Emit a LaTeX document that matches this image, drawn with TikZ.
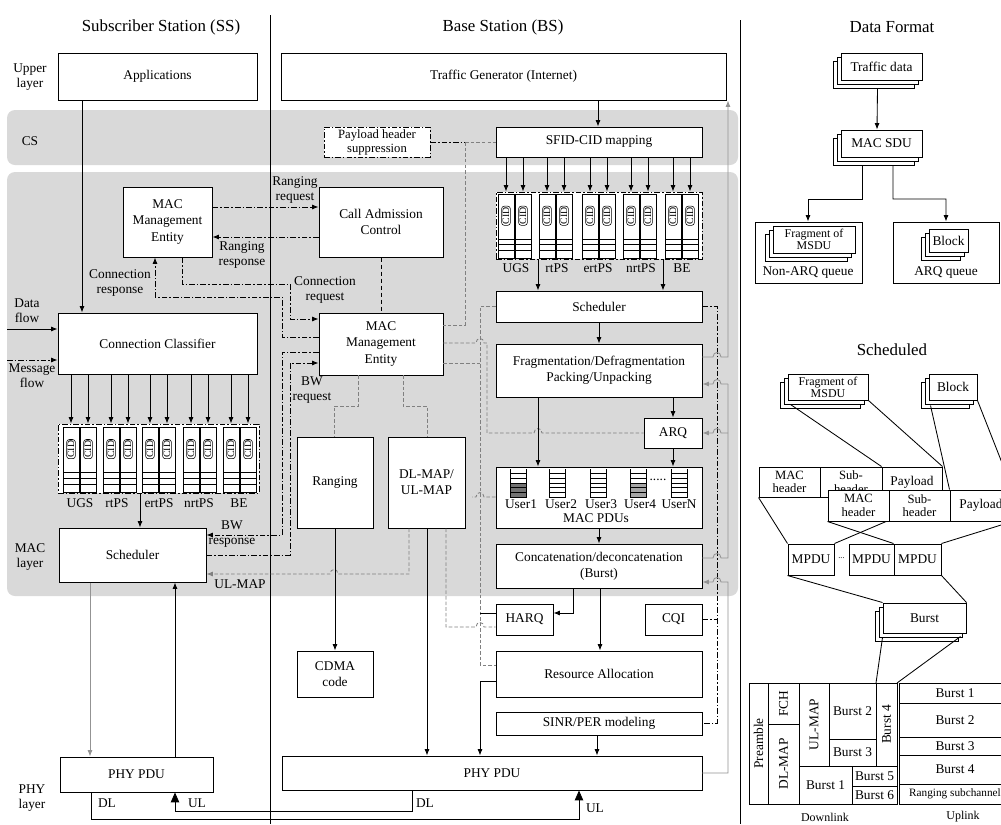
\documentclass[tikz,border=0pt]{standalone}
\usepackage{fontspec}
\setmainfont{Liberation Serif}
\usetikzlibrary{arrows.meta, shadows, positioning, calc}

\newcommand{\boxfnt}{\fontsize{9.5}{11.5}\selectfont}
\newcommand{\lblfnt}{\fontsize{9.5}{10.5}\selectfont}
\newcommand{\hdrfnt}{\fontsize{12}{14}\selectfont}
\newcommand{\smlfnt}{\fontsize{8.5}{9}\selectfont}

% one pair of CID queues: left x, top y, bottom y
\newcommand{\cidpair}[3]{%
  \foreach \q in {0,1}{%
    \draw[fill=white, line width=0.4pt] (#1+\q*17,#2) rectangle (#1+\q*17+16,#3);
    \node[cid] (cid-#1-\q) at (#1+\q*17+8,{#2+(#3-#2)*0.34}) {CID};
    \foreach \r in {0.7,0.79,0.88}
      \draw[line width=0.4pt] (#1+\q*17,{#2+(#3-#2)*\r}) -- (#1+\q*17+16,{#2+(#3-#2)*\r});
  }
  \draw[line width=1.4pt] (#1+16.5,#2) -- (#1+16.5,#3);
}

\begin{document}
\begin{tikzpicture}[
    x=0.025cm, y=-0.025cm, line width=0.6pt,
    % box styles
    blk/.style 2 args={draw, fill=white, line width=0.7pt, minimum width=#1*0.025cm,
        minimum height=#2*0.025cm, inner sep=0pt, align=center, font=\boxfnt},
    stk/.style={double copy shadow={shadow xshift=-0.09cm, shadow yshift=-0.1cm}},
    cid/.style={draw, rounded corners=2pt, rotate=90, inner sep=0.8pt, line width=0.4pt,
        font=\fontsize{7}{7}\selectfont},
    txt/.style={align=center, inner sep=0pt, font=\lblfnt},
    hdr/.style={inner sep=0pt, font=\hdrfnt},
    % line styles
    dd/.style={dash pattern=on 4pt off 1.5pt on 1pt off 1.5pt},
    gd/.style={draw=gray, dash pattern=on 2.5pt off 1.5pt},
    fb/.style={draw=gray!85},
    arr/.style={-{Latex[length=4.5pt,width=3.5pt]}},
    bigarr/.style={-{Triangle[length=7pt,width=6pt]}},
]
\useasboundingbox (0,0) rectangle (1001,824);
\fill[white] (0,0) rectangle (1001,824);
\clip (0,0) rectangle (1001,824);

% layer bands
\fill[black!15, rounded corners=0.2cm] (7,110) rectangle (738,165);
\fill[black!15, rounded corners=0.2cm] (7,172) rectangle (738,596);
\draw (270,15) -- (270,824);
\draw (740,20) -- (740,824);

% headings and layer names
\node[hdr] (hss) at (161,27) {Subscriber Station (SS)};
\node[hdr] (hbs) at (503,27) {Base Station (BS)};
\node[hdr] (hdf) at (892,27) {Data Format};
\node[txt] (lup) at (30,77) {Upper\\layer};
\node[txt] (lcs) at (30,141) {CS};
\node[txt] (ldf) at (27,311) {Data\\flow};
\node[txt] (lmf) at (32,376) {Message\\flow};
\node[txt] (lmac) at (30,557) {MAC\\layer};
\node[txt] (lphy) at (32,798) {PHY\\layer};

% ---------------- subscriber station ----------------
\node[blk={199}{47}] (app) at (157.5,76.5) {Applications};
\node[blk={89}{70}] (ssmme) at (167.5,222) {MAC\\Management\\Entity};
\node[blk={199}{61}] (clas) at (157.5,343.5) {Connection Classifier};
\node[blk={201}{69}, dd] (ssq) at (158.5,458.5) {};
\foreach \gx in {63,103,142,183,223} {
    \cidpair{\gx}{427}{492}
    \draw[arr] (clas.south -| \gx+8,0) -- (ssq.north -| \gx+8,0);
    \draw[arr] (clas.south -| \gx+25,0) -- (ssq.north -| \gx+25,0);
}
\node[txt] (qs1) at (80,503) {UGS};
\node[txt] (qs2) at (117,503) {rtPS};
\node[txt] (qs3) at (159,503) {ertPS};
\node[txt] (qs4) at (199,503) {nrtPS};
\node[txt] (qs5) at (239,503) {BE};
\node[blk={147}{54}] (sssch) at (132.5,555) {Scheduler};
\node[blk={153}{35}] (ssphy) at (136.5,774.5) {PHY PDU};

\coordinate (dfin) at (7,329);
\coordinate (mfin) at (7,360);
\draw[arr] (app.south -| 82,0) -- (clas.north -| 82,0);
\draw[arr] (dfin) -- (clas.west |- dfin);
\draw[arr, dd] (mfin) -- (clas.west |- mfin);
\draw[arr] (ssq.south -| 140,0) -- (sssch.north -| 140,0);
\draw[fb, arr] (sssch.south -| 90,0) -- (ssphy.north -| 90,0);
\draw[arr] (ssphy.north -| 175,0) -- (sssch.south -| 175,0);

% ---------------- base station ----------------
\node[blk={445}{47}] (tg) at (503.5,76.5) {Traffic Generator (Internet)};
\node[blk={106}{30}, dd, font=\fontsize{9}{10}\selectfont] (phs) at (377,142) {Payload header\\suppression};
\node[blk={206}{30}] (sfid) at (599,142) {SFID-CID mapping};
\node[blk={124}{70}] (cac) at (381,222) {Call Admission\\Control};
\node[blk={206}{67}, dd] (bsq) at (599,225.5) {};
\foreach \gx in {498,539,582,623,665} {
    \cidpair{\gx}{194}{258}
    \draw[arr] (sfid.south -| \gx+8,0) -- (bsq.north -| \gx+8,0);
    \draw[arr] (sfid.south -| \gx+25,0) -- (bsq.north -| \gx+25,0);
}
\node[txt] (qb1) at (516,268) {UGS};
\node[txt] (qb2) at (557,268) {rtPS};
\node[txt] (qb3) at (598,268) {ertPS};
\node[txt] (qb4) at (641,268) {nrtPS};
\node[txt] (qb5) at (682,268) {BE};
\node[blk={124}{62}] (bsmme) at (381,344) {MAC\\Management\\Entity};
\node[blk={206}{31}] (bssch) at (599,306.5) {Scheduler};
\node[blk={206}{53}] (frag) at (599,370.5) {Fragmentation/Defragmentation\\Packing/Unpacking};
\node[blk={58}{30}] (arq) at (673,433) {ARQ};
\node[blk={206}{61}] (pdus) at (599,497.5) {};
\foreach \ux/\uf in {518/black!55, 557/white, 598/white, 638/black!35, 679/white} {
    \fill[\uf] (\ux-8,483) rectangle (\ux+8,497);
    \draw[line width=0.5pt] (\ux-8,469) -- (\ux-8,497) -- (\ux+8,497) -- (\ux+8,469);
    \foreach \k in {1,...,5}
        \draw[line width=0.4pt] (\ux-8,{469+\k*4.67}) -- (\ux+8,{469+\k*4.67});
}
\node[txt] (udots) at (658,480) {.....};
\node[txt] (u1) at (521,504) {User1};
\node[txt] (u2) at (561,504) {User2};
\node[txt] (u3) at (601,504) {User3};
\node[txt] (u4) at (640,504) {User4};
\node[txt] (un) at (679,504) {UserN};
\node[txt] (upd) at (596,518) {MAC PDUs};
\node[blk={206}{44}] (concat) at (599,566) {Concatenation/deconcatenation\\(Burst)};
\node[blk={57}{31}] (harq) at (524.5,619.5) {HARQ};
\node[blk={57}{31}] (cqi) at (673.5,619.5) {CQI};
\node[blk={206}{46}] (ra) at (599,674) {Resource Allocation};
\node[blk={206}{23}] (sinr) at (599,723.5) {SINR/PER modeling};
\node[blk={420}{34}] (bsphy) at (492,773) {PHY PDU};
\node[blk={76}{91}] (rng) at (335,482.5) {Ranging};
\node[blk={77}{91}] (map) at (426.5,482.5) {DL-MAP/\\UL-MAP};
\node[blk={76}{46}] (cdma) at (335,674) {CDMA\\code};

% signalling between SS and BS
\draw[arr, dd] (ssmme.east |- 0,207) -- (cac.west |- 0,207);
\draw[arr, dd] (cac.west |- 0,237) -- (ssmme.east |- 0,237);
\draw[arr, dd] (ssmme.south -| 182,0) -- (182,284) -- (290,284) -- (290,319) -- (bsmme.west |- 0,319);
\draw[arr, dd] (bsmme.west |- 0,337) -- (282,337) -- (282,297) -- (155,297) -- (ssmme.south -| 155,0);
\draw[arr, dd] (bsmme.west |- 0,352) -- (282,352) -- (282,535) -- (sssch.east |- 0,535);
\draw[arr, dd] (sssch.east |- 0,555) -- (290,555) -- (290,363) -- (bsmme.west |- 0,363);
\draw[gd, arr] (map.south -| 409,0) -- (409,574) -- (338,574) .. controls +(0,-6) and +(0,-6) .. (330,574) -- (sssch.east |- 0,574);
\draw[dash pattern=on 3pt off 2pt] (cac.south) -- (bsmme.north);
\node[txt] (lrq) at (295,190) {Ranging\\request};
\node[txt] (lrs) at (242,255) {Ranging\\response};
\node[txt] (lcrs) at (120,283) {Connection\\response};
\node[txt] (lcrq) at (325,290) {Connection\\request};
\node[txt] (lbwq) at (312,390) {BW\\request};
\node[txt] (lbws) at (232,534) {BW\\response};
\node[txt] (lulm) at (240,584) {UL-MAP};

% management entity links
\coordinate (phsj) at (465,142);
\draw[dd] (phs.east) -- (phsj);
\draw[gd] (phsj) -- (sfid.west);
\draw[gd] (phsj) -- (465,325) -- (bsmme.east |- 0,325);
\draw[gd] (bsmme.south -| 358,0) -- (358,406) -- (334,406) -- (rng.north -| 334,0);
\draw[gd] (bsmme.south -| 403,0) -- (403,406) -- (427,406) -- (map.north -| 427,0);
\draw[gd] (bsmme.east |- 0,343) -- (476,343) .. controls +(0,-6) and +(0,-6) .. (484,343) -- (487,343)
    -- (487,433) -- (534,433) .. controls +(0,-6) and +(0,-6) .. (542,433) -- (arq.west);
\draw[gd] (bsmme.east |- 0,363) -- (480,363);
\draw[gd] (bssch.west) -- (480,306.5) -- (480,665) -- (ra.west |- 0,665);
\draw[gd] (pdus.west |- 0,497) -- (484,497) .. controls +(0,-6) and +(0,-6) .. (476,497) -- (472,497);
\draw[gd] (map.south -| 446,0) -- (446,627) -- (476,627) .. controls +(0,-6) and +(0,-6) .. (484,627) -- (harq.west |- 0,627);
\draw (harq.west |- 0,613) -- (480,613);
\draw[arr] (rng.south) -- (cdma.north);
\draw[arr] (map.south -| 427,0) -- (bsphy.north -| 427,0);
\draw[arr] (ra.west |- 0,681) -- (480,681) -- (bsphy.north -| 480,0);

% downlink chain
\draw[arr] (tg.south -| 598,0) -- (sfid.north -| 598,0);
\draw[arr] (bsq.south -| 538,0) -- (bssch.north -| 538,0);
\draw[arr] (bsq.south -| 663,0) -- (bssch.north -| 663,0);
\draw[arr] (bssch.south) -- (frag.north);
\draw[arr] (frag.south -| 538,0) -- (pdus.north -| 538,0);
\draw[arr] (frag.south -| 673,0) -- (arq.north);
\draw[arr] (arq.south) -- (pdus.north -| 673,0);
\draw[arr] (pdus.south) -- (concat.north);
\draw[arr] (concat.south -| 573,0) -- (573,613) -- (harq.east |- 0,613);
\draw[arr] (concat.south -| 600,0) -- (ra.north -| 600,0);
\draw[arr] (sinr.south -| 597,0) -- (bsphy.north -| 597,0);

% control bus
\draw[dd] (bssch.east) -- (717,306.5) -- (717,723.5) -- (sinr.east);
\draw[dd] (cqi.east) -- (717,619.5);

% uplink feedback
\draw[fb, arr] (frag.east |- 0,357) -- (713,357) .. controls +(0,-6) and +(0,-6) .. (721,357) -- (728,357) -- (tg.south -| 728,0);
\draw[fb] (concat.east |- 0,558) -- (713,558) .. controls +(0,-6) and +(0,-6) .. (721,558) -- (728,558) -- (728,384);
\draw[fb, arr] (728,384) -- (721,384) .. controls +(0,-6) and +(0,-6) .. (713,384) -- (frag.east |- 0,384);
\draw[fb, arr] (728,433) -- (721,433) .. controls +(0,-6) and +(0,-6) .. (713,433) -- (arq.east);
\draw[fb, arr] (bsphy.east) -- (728,773) -- (728,582) -- (721,582) .. controls +(0,-6) and +(0,-6) .. (713,582) -- (concat.east |- 0,582);

% PHY links
\draw[bigarr] (ssphy.south -| 91,0) -- (91,819) -- (579,819) -- (bsphy.south -| 579,0);
\draw[bigarr] (bsphy.south -| 412,0) -- (412,811) -- (175,811) -- (ssphy.south -| 175,0);
\node[txt] (tdl1) at (107,803) {DL};
\node[txt] (tul1) at (197,803) {UL};
\node[txt] (tdl2) at (425,803) {DL};
\node[txt] (tul2) at (595,808) {UL};

% ---------------- data format ----------------
\node[blk={81}{27}, stk] (trd) at (881.5,66.5) {Traffic data};
\node[blk={81}{27}, stk] (sdu) at (881.5,143.5) {MAC SDU};
\draw[arr] ($(trd.south)+(-4,8)$) -- (sdu.north -| 877,0);
\node[blk={107}{61}] (naq) at (808.5,252.5) {};
\node[blk={106}{61}] (aq) at (946,252.5) {};
\draw[arr] ($(sdu.south)+(-19.5,8)$) -- (862,199) -- (808,199) -- (naq.north -| 808,0);
\draw[arr] ($(sdu.south)+(11.5,8)$) -- (893,199) -- (946,199) -- (aq.north);
\node[blk={82}{27}, stk, font=\fontsize{8.5}{8.5}\selectfont] (nfrag) at (814,239.5) {Fragment of\\MSDU};
\node[blk={39}{23}, stk] (ablk) at (948.5,240.5) {Block};
\node[txt] (naql) at (808,272) {Non-ARQ queue};
\node[txt] (aql) at (946,272) {ARQ queue};

% scheduled
\node[hdr] (hsc) at (892,350) {Scheduled};
\node[blk={80}{26}, stk, font=\fontsize{8.5}{8.5}\selectfont] (sfrag) at (828,387) {Fragment of\\MSDU};
\node[blk={48}{26}, stk] (sblk) at (953,387) {Block};
\node[blk={46}{31}] (mp1) at (811,559.5) {MPDU};
\node[blk={45}{31}] (mp2) at (871.5,559.5) {MPDU};
\node[blk={47}{31}] (mp3) at (917.5,559.5) {MPDU};
\node[txt, font=\fontsize{6}{6}\selectfont] (mpd) at (841.5,558) {...};
\node[blk={83}{30}, stk] (bst) at (924.5,618) {Burst};
\node[blk={61}{30}, font=\fontsize{9}{9.5}\selectfont] (mh1) at (789.5,482) {MAC\\header};
\node[blk={62}{30}, font=\fontsize{9}{9.5}\selectfont] (sh1) at (851,482) {Sub-\\header};
\node[blk={60}{30}] (pl1) at (912,482) {Payload};
\draw ($(sfrag.south west)+(3,4)$) -- (pl1.north west);
\draw (sfrag.south east) -- (pl1.north east);
\draw (mh1.south west) -- (mp1.north west);
\draw (pl1.south east) -- (mp1.north east);
\node[blk={61}{31}, font=\fontsize{9}{9.5}\selectfont] (mh2) at (858.5,505.5) {MAC\\header};
\node[blk={61}{31}, font=\fontsize{9}{9.5}\selectfont] (sh2) at (919.5,505.5) {Sub-\\header};
\node[blk={62}{31}] (pl2) at (981,505.5) {Payload};
\draw ($(sblk.south west)+(2,5)$) -- (pl2.north west);
\draw (sblk.south east) -- (pl2.north east);
\draw (mh2.south west) -- (mp3.north west);
\draw (pl2.south east) -- (mp3.north east);
\draw (mp1.south west) -- (bst.north west);
\draw (mp3.south east) -- (bst.north east);

% frame
\coordinate (fa) at (876,683);
\coordinate (fb) at (897,683);
\draw ($(bst.south west)+(0,4)$) -- (fa);
\draw ($(bst.south east)+(-6,3)$) -- (fb);
\draw[line width=0.7pt] (749,683) rectangle (897,804)
    (768,683) -- (768,804) (799,683) -- (799,804) (768,724) -- (799,724)
    (829,683) -- (829,766) (876,683) -- (876,766) (799,766) -- (897,766)
    (829,739) -- (876,739) (852,766) -- (852,804) (852,786) -- (897,786);
\draw[line width=0.7pt] (899,683) rectangle (1011,804)
    (899,703) -- (1011,703) (899,737) -- (1011,737) (899,755) -- (1011,755) (899,784) -- (1011,784);
\node[txt, rotate=90] (tpre) at (758.5,743.5) {Preamble};
\node[txt, rotate=90] (tfch) at (783.5,703.5) {FCH};
\node[txt, rotate=90] (tdlm) at (783.5,764) {DL-MAP};
\node[txt, rotate=90] (tulm) at (814,724.5) {UL-MAP};
\node[txt] (td2) at (852.5,711) {Burst 2};
\node[txt] (td3) at (852.5,752.5) {Burst 3};
\node[txt, rotate=90] (td4) at (886.5,724.5) {Burst 4};
\node[txt] (td1) at (825.5,785) {Burst 1};
\node[txt] (td5) at (874.5,776) {Burst 5};
\node[txt] (td6) at (874.5,795) {Burst 6};
\node[txt] (tu1) at (955,693) {Burst 1};
\node[txt] (tu2) at (955,720) {Burst 2};
\node[txt] (tu3) at (955,746) {Burst 3};
\node[txt] (tu4) at (955,769.5) {Burst 4};
\node[txt, font=\fontsize{8}{8}\selectfont] (tu5) at (955,794) {Ranging subchannel};
\node[txt, font=\smlfnt] (tdown) at (825,817) {Downlink};
\node[txt, font=\smlfnt] (tup) at (963,817) {Uplink};
\end{tikzpicture}
\end{document}
